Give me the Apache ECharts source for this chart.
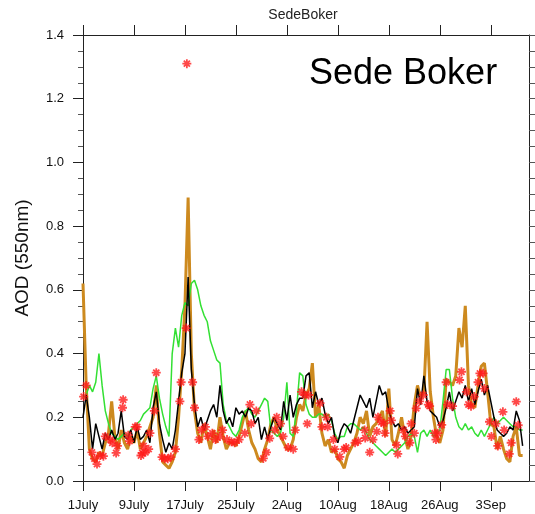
<!DOCTYPE html>
<html>
<head>
<meta charset="utf-8">
<title>SedeBoker AOD</title>
<script src="https://cdn.jsdelivr.net/npm/echarts@6/dist/echarts.min.js"></script>
<style>
  html, body { margin: 0; padding: 0; background: #fff; }
  #chart { width: 535px; height: 514px; }
</style>
</head>
<body>
<div id="chart"></div>
<script>
// Time axis: days since 1 July, one tick every 8 days
const xTickLabels = ['1July', '9July', '17July', '25July', '2Aug', '10Aug', '18Aug', '26Aug', '3Sep'];
const xTickStep = 8;
const sampleStep = 0.5; // model output every half day

// Model AOD at 550 nm, half-day samples from 1 July
const aodModelGold = [
  0.62,0.30, 0.10,0.07, 0.06,0.09, 0.08,0.12, 0.15,0.25, 0.14,0.10, 0.16,0.12, 0.10,0.14,
  0.12,0.16, 0.10,0.12, 0.14,0.17, 0.20,0.30, 0.15,0.06, 0.05,0.04, 0.06,0.09, 0.20,0.35,
  0.55,0.89, 0.40,0.22, 0.15,0.12, 0.18,0.14, 0.10,0.16, 0.12,0.20, 0.14,0.10, 0.12,0.12,
  0.11,0.14, 0.18,0.22, 0.16,0.12, 0.10,0.07, 0.06,0.10, 0.13,0.18, 0.20,0.16, 0.14,0.12,
  0.10,0.10, 0.13,0.20, 0.24,0.22, 0.27,0.29, 0.37,0.20, 0.24,0.15, 0.11,0.13, 0.09,0.10,
  0.07,0.06, 0.04,0.08, 0.10,0.12, 0.15,0.20, 0.18,0.22, 0.14,0.17, 0.18,0.20, 0.22,0.14,
  0.29,0.13, 0.11,0.15, 0.20,0.14, 0.10,0.14, 0.24,0.30, 0.26,0.28, 0.50,0.28, 0.20,0.14,
  0.12,0.16, 0.32,0.31, 0.30,0.33, 0.48,0.42, 0.55,0.30, 0.24,0.23, 0.30,0.36, 0.37,0.28,
  0.18,0.17, 0.10,0.14, 0.10,0.07, 0.06,0.14, 0.17,0.08, 0.08
];
const aodModelGreen = [
  0.26,0.27, 0.30,0.28, 0.31,0.40, 0.30,0.22, 0.18,0.15, 0.14,0.13, 0.14,0.15, 0.14,0.16,
  0.17,0.18, 0.19,0.21, 0.22,0.23, 0.29,0.33, 0.26,0.21, 0.17,0.14, 0.40,0.48, 0.42,0.52,
  0.56,0.55, 0.62,0.63, 0.60,0.55, 0.52,0.50, 0.44,0.41, 0.38,0.37, 0.24,0.19, 0.17,0.15,
  0.14,0.16, 0.20,0.22, 0.23,0.21, 0.20,0.22, 0.24,0.26, 0.25,0.16, 0.15,0.14, 0.15,0.20,
  0.31,0.15, 0.14,0.22, 0.34,0.33, 0.24,0.21, 0.20,0.20, 0.21,0.21, 0.20,0.21, 0.19,0.15,
  0.13,0.14, 0.14,0.17, 0.18,0.18, 0.17,0.16, 0.17,0.15, 0.13,0.12, 0.11,0.10, 0.09,0.08,
  0.09,0.10, 0.09,0.10, 0.11,0.12, 0.14,0.15, 0.14,0.09, 0.15,0.16, 0.14,0.16, 0.14,0.15,
  0.16,0.25, 0.35,0.35, 0.26,0.20, 0.17,0.16, 0.18,0.16, 0.17,0.15, 0.14,0.16, 0.14,0.16,
  0.18,0.20, 0.18,0.19, 0.20,0.19, 0.18,0.17, 0.17,0.16, 0.16
];
const aodModelBlack = [
  0.20,0.27, 0.20,0.10, 0.18,0.14, 0.10,0.15, 0.13,0.16, 0.13,0.15, 0.22,0.14, 0.13,0.16,
  0.12,0.17, 0.13,0.14, 0.16,0.12, 0.23,0.28, 0.18,0.13, 0.09,0.12, 0.10,0.16, 0.25,0.34,
  0.40,0.64, 0.35,0.24, 0.17,0.20, 0.16,0.19, 0.22,0.24, 0.20,0.30, 0.22,0.18, 0.20,0.17,
  0.23,0.21, 0.22,0.20, 0.23,0.22, 0.18,0.20, 0.13,0.17, 0.13,0.17, 0.20,0.18, 0.16,0.25,
  0.19,0.27, 0.20,0.24, 0.26,0.26, 0.33,0.34, 0.23,0.28, 0.24,0.26, 0.21,0.18, 0.20,0.14,
  0.12,0.16, 0.18,0.17, 0.15,0.19, 0.23,0.27, 0.25,0.23, 0.26,0.20, 0.25,0.30, 0.27,0.28,
  0.22,0.19, 0.17,0.18, 0.16,0.17, 0.15,0.16, 0.17,0.29, 0.24,0.33, 0.25,0.22, 0.21,0.20,
  0.17,0.19, 0.23,0.28, 0.22,0.25, 0.28,0.26, 0.30,0.25, 0.29,0.24, 0.28,0.32, 0.27,0.30,
  0.25,0.20, 0.16,0.15, 0.14,0.15, 0.17,0.16, 0.22,0.19, 0.11
];

// Sun-photometer observations: [day since 1 July, AOD]
const aodObserved = [
  [0.1,0.265],[0.5,0.30],[1.4,0.09],[1.8,0.07],[2.2,0.053],[2.7,0.08],[3.2,0.078],[3.5,0.14],
  [4.3,0.13],[4.6,0.12],[5.2,0.088],[5.4,0.11],[6.2,0.23],[6.3,0.255],[7.1,0.144],[7.3,0.125],
  [8.2,0.17],[8.5,0.17],[9.1,0.08],[9.3,0.088],[9.5,0.11],[9.8,0.09],[10.3,0.10],[10.5,0.15],
  [11.2,0.22],[11.5,0.34],[12.4,0.075],[12.8,0.07],[13.3,0.07],[13.8,0.075],[14.5,0.10],
  [15.2,0.25],[15.4,0.31],[16.2,0.48],[16.3,1.31],[17.2,0.31],[17.5,0.23],[18.2,0.13],
  [18.6,0.16],[19.2,0.17],[19.6,0.14],[20.3,0.15],[20.8,0.13],[21.5,0.14],[21.9,0.16],
  [22.6,0.13],[23.3,0.123],[23.8,0.12],[24.5,0.13],[25.4,0.15],[26.2,0.24],[26.4,0.18],
  [27.2,0.22],[28.3,0.071],[28.8,0.09],[29.3,0.134],[30.1,0.16],[30.4,0.20],[31.0,0.18],
  [31.4,0.14],[32.2,0.105],[33.0,0.10],[33.3,0.16],[34.3,0.28],[34.8,0.27],[35.2,0.18],
  [35.4,0.27],[37.2,0.244],[37.5,0.17],[38.2,0.20],[38.4,0.17],[39.3,0.13],[39.5,0.10],
  [40.3,0.076],[41.0,0.10],[41.3,0.105],[42.7,0.12],[43.2,0.125],[44.2,0.16],[44.3,0.135],
  [45.0,0.09],[45.5,0.13],[46.1,0.155],[46.3,0.20],[46.8,0.185],[47.2,0.18],[47.4,0.15],
  [48.2,0.22],[48.4,0.19],[49.2,0.113],[49.4,0.085],[50.3,0.16],[50.6,0.14],[51.3,0.12],
  [51.5,0.18],[52.0,0.15],[52.3,0.228],[52.8,0.25],[53.4,0.27],[54.2,0.24],[54.4,0.235],
  [55.2,0.15],[55.4,0.13],[55.7,0.15],[56.3,0.176],[57.0,0.31],[57.2,0.24],[58.0,0.235],
  [59.1,0.317],[59.4,0.343],[60.2,0.28],[60.5,0.24],[60.9,0.235],[61.4,0.265],[62.0,0.31],
  [62.3,0.338],[62.8,0.338],[63.0,0.29],[63.8,0.186],[64.1,0.14],[64.8,0.18],[65.1,0.11],
  [65.9,0.217],[66.1,0.16],[66.9,0.085],[67.2,0.12],[68.0,0.249],[68.3,0.175]
];

const toPairs = vals => vals.map((v, i) => [i * sampleStep, v]);
const xTickValues = xTickLabels.map((_, i) => i * xTickStep);

const FONT = 'Liberation Sans, Arial, Helvetica, sans-serif';
const AXIS_COLOR = '#222';

// eight-armed asterisk used for the observation markers
const asterisk = 'path://M5,0L5,10M0,5L10,5M1.6,1.6L8.4,8.4M1.6,8.4L8.4,1.6';

const chart = echarts.init(document.getElementById('chart'), null, { renderer: 'canvas' });

const baseX = {
  type: 'value', min: 0, max: 70,
  axisLine: { show: true, onZero: false, lineStyle: { color: AXIS_COLOR, width: 1 } },
  axisTick: { show: true, inside: false, length: 10, customValues: xTickValues,
              lineStyle: { color: AXIS_COLOR, width: 1 } },
  splitLine: { show: false }
};

chart.setOption({
  animation: false,
  backgroundColor: '#fff',
  grid: { left: 83, right: 6, top: 35, bottom: 33, containLabel: false },
  xAxis: [
    Object.assign({}, baseX, {
      position: 'bottom',
      axisLabel: {
        show: true, customValues: xTickValues, margin: 18,
        color: '#111', fontFamily: FONT, fontSize: 13,
        formatter: v => xTickLabels[Math.round(v / xTickStep)] || ''
      }
    }),
    Object.assign({}, baseX, { position: 'top', axisLabel: { show: false } })
  ],
  yAxis: [
    {
      type: 'value', min: 0, max: 1.4, interval: 0.2, position: 'left',
      name: 'AOD (550nm)', nameLocation: 'middle', nameGap: 51, nameRotate: 90,
      nameTextStyle: { fontFamily: FONT, fontSize: 19, color: '#111' },
      axisLine: { show: true, onZero: false, lineStyle: { color: AXIS_COLOR, width: 1 } },
      axisTick: { show: true, inside: false, length: 10, lineStyle: { color: AXIS_COLOR } },
      minorTick: { show: true, splitNumber: 4, length: 5, lineStyle: { color: '#555' } },
      axisLabel: { margin: 19, color: '#111', fontFamily: FONT, fontSize: 13,
                   formatter: v => v.toFixed(1) },
      splitLine: { show: false }, minorSplitLine: { show: false }
    },
    {
      type: 'value', min: 0, max: 1.4, interval: 0.2, position: 'right',
      axisLine: { show: true, onZero: false, lineStyle: { color: AXIS_COLOR, width: 1 } },
      axisTick: { show: true, inside: false, length: 6, lineStyle: { color: '#555' } },
      minorTick: { show: true, splitNumber: 4, length: 6, lineStyle: { color: '#555' } },
      axisLabel: { show: false },
      splitLine: { show: false }, minorSplitLine: { show: false }
    }
  ],
  graphic: [
    { type: 'text', x: 303, y: 15,
      style: { text: 'SedeBoker', font: '14px ' + FONT, fill: '#222',
               textAlign: 'center', textVerticalAlign: 'middle' } },
    { type: 'text', x: 309, y: 74,
      style: { text: 'Sede Boker', font: '36px ' + FONT, fill: '#000',
               textAlign: 'left', textVerticalAlign: 'middle' } }
  ],
  series: [
    { name: 'Model (gold)', type: 'line', data: toPairs(aodModelGold), showSymbol: false,
      lineStyle: { color: '#cd8a1f', width: 3 }, z: 2 },
    { name: 'Model (green)', type: 'line', data: toPairs(aodModelGreen), showSymbol: false,
      lineStyle: { color: '#33e033', width: 1.5 }, z: 3 },
    { name: 'Model (black)', type: 'line', data: toPairs(aodModelBlack), showSymbol: false,
      lineStyle: { color: '#000', width: 1.5 }, z: 4 },
    { name: 'Observed', type: 'scatter', data: aodObserved, symbol: asterisk, symbolSize: 9,
      itemStyle: { color: 'rgba(0,0,0,0)', borderColor: '#ff1a1a', borderWidth: 1.8 }, z: 5 }
  ]
});
</script>
</body>
</html>
